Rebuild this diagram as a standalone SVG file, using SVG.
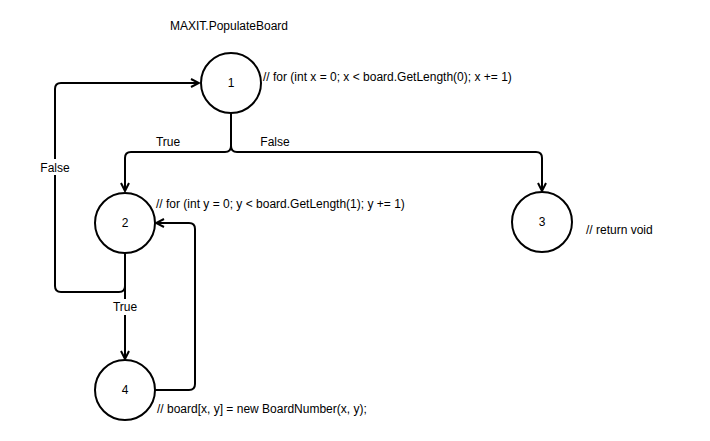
<svg xmlns="http://www.w3.org/2000/svg" width="710" height="441" viewBox="0 0 710 441">
<defs>
<style>
text{font-family:"Liberation Sans",Arial,sans-serif;font-size:12px;fill:#000}
.n circle{fill:#fff;stroke:#000;stroke-width:2}
.n text{text-anchor:middle}
.e{fill:none;stroke:#000;stroke-width:2;stroke-linejoin:round}
.lb{fill:#fff}
</style>
<marker id="a" viewBox="0 0 10 10" refX="9" refY="5" markerWidth="10" markerHeight="10" markerUnits="userSpaceOnUse" orient="auto">
<path d="M1,1 L9,5 L1,9" fill="none" stroke="#000" stroke-width="2"/>
</marker>
</defs>
<rect width="710" height="441" fill="#fff"/>
<text x="229" y="30" text-anchor="middle">MAXIT.PopulateBoard</text>
<g id="edges">
<path class="e" d="M231,113 V146 Q231,152 225,152 H131 Q125,152 125,158 V191" marker-end="url(#a)"/>
<path class="e" d="M231,113 V146 Q231,152 237,152 H536 Q542,152 542,158 V191" marker-end="url(#a)"/>
<path class="e" d="M125,253 V286 Q125,292 119,292 H61 Q55,292 55,286 V89 Q55,83 61,83 H199" marker-end="url(#a)"/>
<path class="e" d="M125,253 V359" marker-end="url(#a)"/>
<path class="e" d="M155,390 H189 Q195,390 195,384 V229 Q195,223 189,223 H156" marker-end="url(#a)"/>
<rect class="lb" x="37" y="159" width="36" height="16"/>
<text x="55" y="172" text-anchor="middle">False</text>
<rect class="lb" x="110" y="299" width="30" height="16"/>
<text x="125" y="311" text-anchor="middle">True</text>
<text x="168" y="146" text-anchor="middle">True</text>
<text x="275" y="146" text-anchor="middle">False</text>
</g>
<g id="node1" class="n"><circle cx="231" cy="83" r="30"/><text x="231" y="87">1</text></g>
<g id="node2" class="n"><circle cx="125" cy="223" r="30"/><text x="125" y="227">2</text></g>
<g id="node3" class="n"><circle cx="542" cy="222" r="30"/><text x="542" y="226">3</text></g>
<g id="node4" class="n"><circle cx="125" cy="390" r="30"/><text x="125" y="394">4</text></g>
<text x="263" y="81">// for (int x = 0; x &lt; board.GetLength(0); x += 1)</text>
<text x="156" y="208">// for (int y = 0; y &lt; board.GetLength(1); y += 1)</text>
<text x="586" y="234">// return void</text>
<text x="157" y="413">// board[x, y] = new BoardNumber(x, y);</text>
</svg>
